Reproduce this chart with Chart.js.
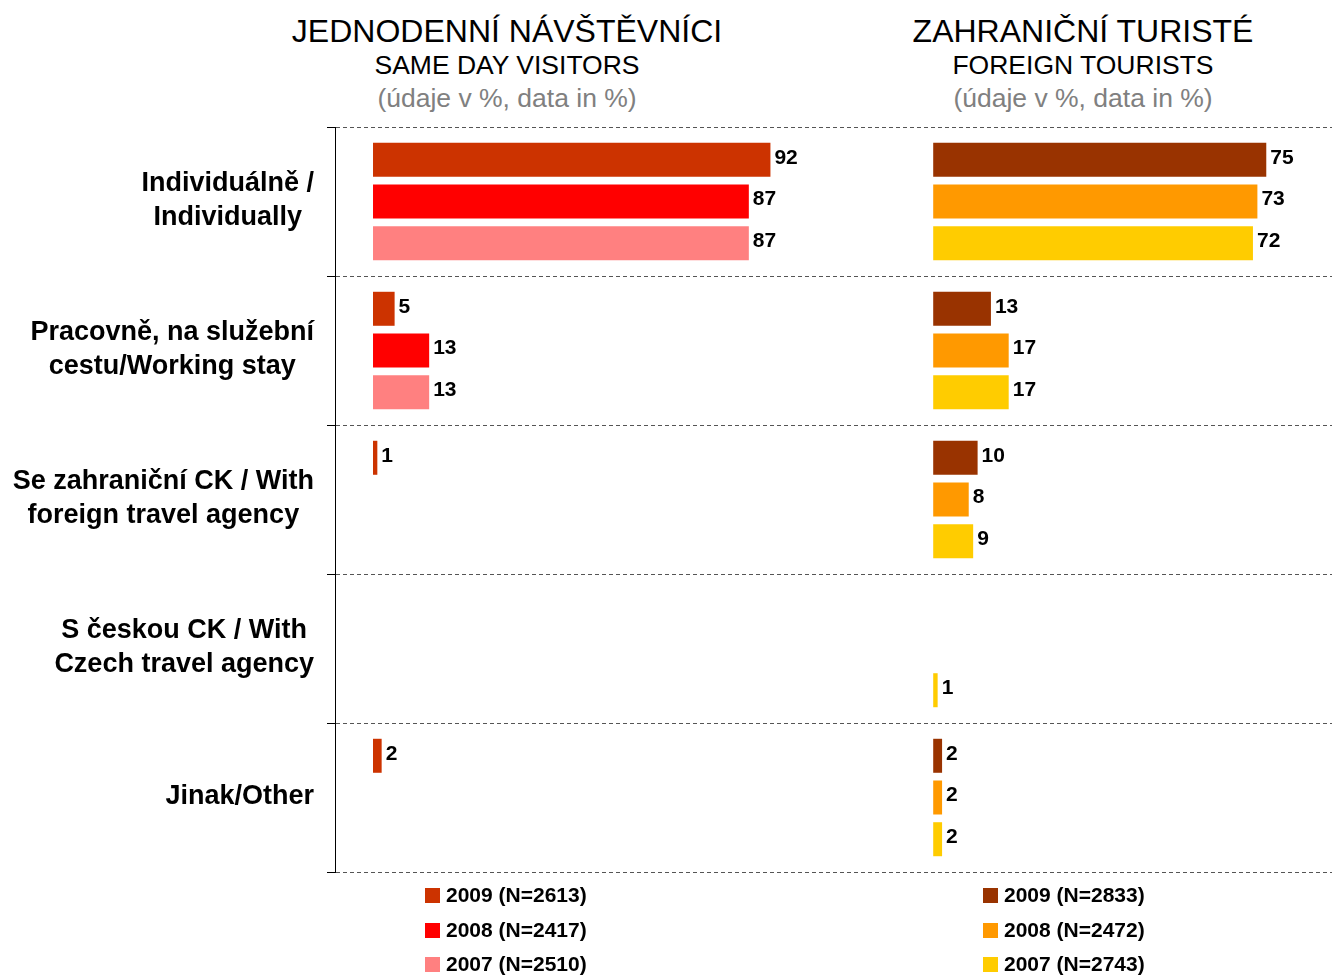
<!DOCTYPE html>
<html lang="cs">

<head>
    <meta charset="UTF-8">
    <title>Způsob cesty</title>
    <script src="https://cdn.jsdelivr.net/npm/chart.js"></script>
    <style>
        body {
            margin: 0;
            width: 1332px;
            height: 975px;
            overflow: hidden;
            background: #fff;
            font-family: "Liberation Sans", Arial, sans-serif;
        }

        #wrap {
            position: absolute;
            left: 0;
            top: 0;
            width: 1332px;
            height: 975px;
        }

        .title {
            position: absolute;
            top: 14px;
            width: 600px;
            text-align: center;
            color: #000;
        }

        .title .l1 {
            font-size: 32px;
            line-height: 34px;
        }

        .title .l2 {
            font-size: 26.5px;
            line-height: 34px;
        }

        .title .l3 {
            font-size: 26.5px;
            line-height: 32px;
            color: #808080;
        }

        .legend {
            position: absolute;
            top: 878px;
            font-weight: bold;
            font-size: 21px;
        }

        .legend div {
            height: 34.5px;
            line-height: 34.5px;
            white-space: nowrap;
        }

        .legend span.box {
            display: inline-block;
            width: 15px;
            height: 15px;
            margin-right: 6px;
            vertical-align: -1px;
        }
    </style>
</head>

<body>
    <div class="title" style="left: 207px;">
        <div class="l1">JEDNODENNÍ NÁVŠTĚVNÍCI</div>
        <div class="l2">SAME DAY VISITORS</div>
        <div class="l3">(údaje v %, data in %)</div>
    </div>
    <div class="title" style="left: 783px;">
        <div class="l1">ZAHRANIČNÍ TURISTÉ</div>
        <div class="l2">FOREIGN TOURISTS</div>
        <div class="l3">(údaje v %, data in %)</div>
    </div>

    <div id="wrap">
        <canvas id="myChart" width="1332" height="975"></canvas>
    </div>

    <div class="legend" id="legendLeft" style="left: 425px;"></div>
    <div class="legend" id="legendRight" style="left: 983px;"></div>

    <script>
        // kategorie (osa y)
        const categories = [
            ['Individuálně /', 'Individually'],
            ['Pracovně, na služební', 'cestu/Working stay'],
            ['Se zahraniční CK / With', 'foreign travel agency'],
            ['S českou CK / With', 'Czech travel agency'],
            ['Jinak/Other']
        ];

        // jednodenní návštěvníci
        const sameDayLabels = ['2009 (N=2613)', '2008 (N=2417)', '2007 (N=2510)'];
        const sameDay2009 = [92, 5, 1, null, 2];
        const sameDay2008 = [87, 13, null, null, null];
        const sameDay2007 = [87, 13, null, null, null];

        // zahraniční turisté
        const foreignLabels = ['2009 (N=2833)', '2008 (N=2472)', '2007 (N=2743)'];
        const foreign2009 = [75, 13, 10, null, 2];
        const foreign2008 = [73, 17, 8, null, 2];
        const foreign2007 = [72, 17, 9, 1, 2];

        const sameDayColors = ['#CC3300', '#FF0000', '#FF8080'];
        const foreignColors = ['#993300', '#FF9900', '#FFCC00'];

        const stacks = ['s2009', 's2008', 's2007'];

        function makeSet(label, data, color, axis, stack) {
            return {
                label: label,
                data: data,
                backgroundColor: color,
                borderWidth: 0,
                xAxisID: axis,
                stack: stack,
                categoryPercentage: 0.84,
                barPercentage: 0.815
            };
        }

        const sameDaySeries = [sameDay2009, sameDay2008, sameDay2007];
        const foreignSeries = [foreign2009, foreign2008, foreign2007];
        const datasets = [];
        for (let i = 0; i < 3; i++) {
            datasets.push(makeSet(sameDayLabels[i], sameDaySeries[i], sameDayColors[i], 'xL', stacks[i]));
        }
        for (let i = 0; i < 3; i++) {
            datasets.push(makeSet(foreignLabels[i], foreignSeries[i], foreignColors[i], 'xR', stacks[i]));
        }

        // popisky hodnot vedle sloupců
        const valueLabels = {
            id: 'valueLabels',
            afterDatasetsDraw(chart) {
                const ctx = chart.ctx;
                ctx.save();
                ctx.font = 'bold 21px "Liberation Sans", Arial, sans-serif';
                ctx.fillStyle = '#000';
                ctx.textAlign = 'left';
                ctx.textBaseline = 'middle';
                chart.data.datasets.forEach(function (ds, di) {
                    const meta = chart.getDatasetMeta(di);
                    meta.data.forEach(function (bar, i) {
                        const v = ds.data[i];
                        if (v === null || v === undefined) return;
                        ctx.fillText(String(v), bar.x + 4, bar.y - 2);
                    });
                });
                ctx.restore();
            }
        };

        // popisky kategorií - řádky centrované v bloku zarovnaném doprava
        const categoryLabels = {
            id: 'categoryLabels',
            afterDraw(chart) {
                const ctx = chart.ctx;
                const yScale = chart.scales.y;
                const right = 314;
                const lineH = 34;
                ctx.save();
                ctx.font = 'bold 27px "Liberation Sans", Arial, sans-serif';
                ctx.fillStyle = '#000';
                ctx.textAlign = 'center';
                ctx.textBaseline = 'middle';
                categories.forEach(function (lines, i) {
                    const cy = yScale.getPixelForTick(i) - 1;
                    let w = 0;
                    lines.forEach(function (t) { w = Math.max(w, ctx.measureText(t).width); });
                    const cx = right - w / 2;
                    const y0 = cy - (lines.length - 1) * lineH / 2;
                    lines.forEach(function (t, k) {
                        ctx.fillText(t, cx, y0 + k * lineH);
                    });
                });
                ctx.restore();
            }
        };

        const config = {
            type: 'bar',
            data: {
                labels: categories,
                datasets: datasets
            },
            options: {
                indexAxis: 'y',
                responsive: false,
                animation: false,
                devicePixelRatio: 1,
                layout: {
                    padding: { top: 127, bottom: 103, left: 0, right: 0 }
                },
                plugins: {
                    legend: { display: false },
                    tooltip: { enabled: false },
                    title: { display: false }
                },
                scales: {
                    y: {
                        type: 'category',
                        ticks: { display: false },
                        grid: {
                            display: true,
                            offset: true,
                            color: '#555',
                            lineWidth: 1,
                            tickLength: 8,
                            tickColor: '#000'
                        },
                        border: {
                            display: true,
                            color: '#000',
                            width: 1,
                            dash: [4, 3]
                        },
                        afterFit: function (scale) {
                            scale.width = 335;
                        }
                    },
                    // levý panel: nula na x = 373
                    xL: {
                        type: 'linear',
                        display: false,
                        stacked: false,
                        min: -8.8,
                        max: 222
                    },
                    // pravý panel: nula na x = 933
                    xR: {
                        type: 'linear',
                        display: false,
                        stacked: false,
                        min: -134.7,
                        max: 89.8
                    }
                }
            },
            plugins: [valueLabels, categoryLabels]
        };

        const myChart = new Chart(document.getElementById('myChart'), config);

        // legenda
        function buildLegend(el, labels, colors) {
            let html = '';
            for (let i = 0; i < labels.length; i++) {
                html += '<div><span class="box" style="background:' + colors[i] + '"></span>' + labels[i] + '</div>';
            }
            document.getElementById(el).innerHTML = html;
        }
        buildLegend('legendLeft', sameDayLabels, sameDayColors);
        buildLegend('legendRight', foreignLabels, foreignColors);
    </script>
</body>

</html>
